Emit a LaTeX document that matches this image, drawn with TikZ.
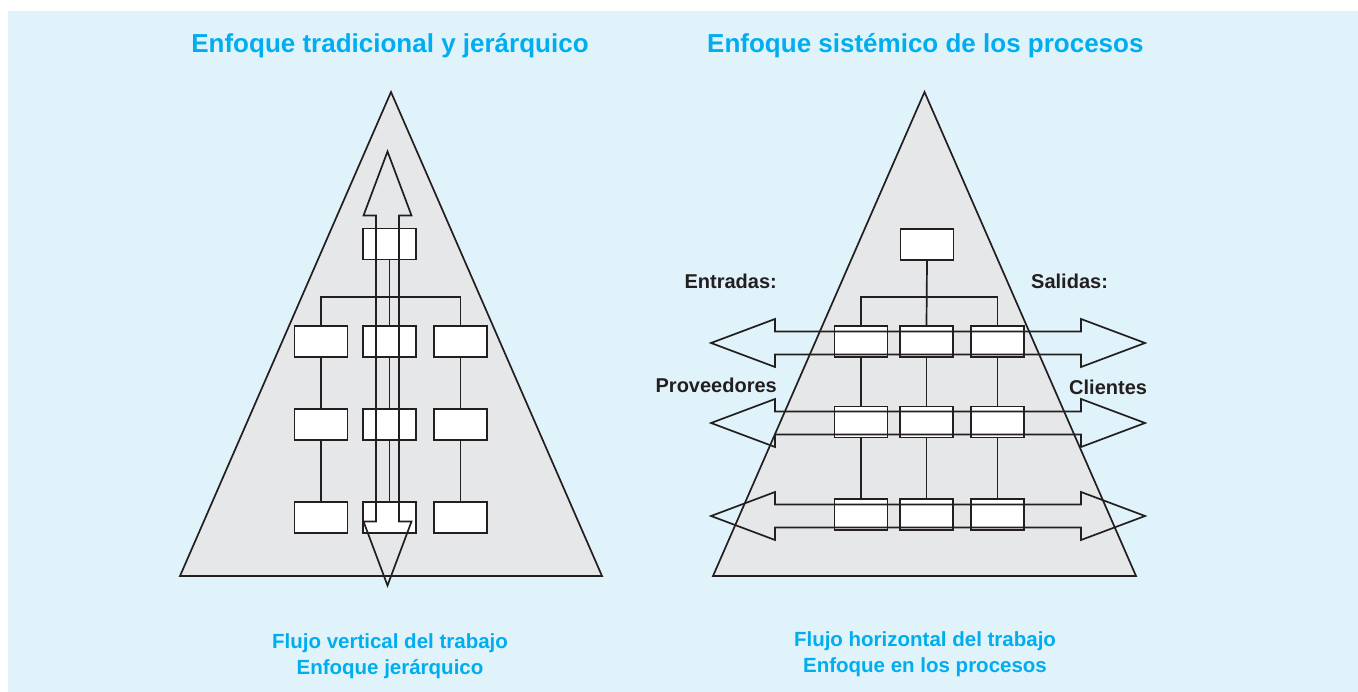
\documentclass[tikz,border=0pt]{standalone}
\usepackage{fontspec}
\setmainfont{Liberation Sans}
\usepackage{xcolor}
\usetikzlibrary{
		calc,
		positioning
	}
\definecolor{fondo}{HTML}{E0F3FB}
\definecolor{gris}{HTML}{E6E7E8}
\definecolor{trazo}{HTML}{231F20}
\definecolor{azul}{HTML}{00AEEF}
\tikzset{
		linea/.style={draw=trazo, line width=1.7pt, line join=miter},
		caja/.style={linea, fill=white, rectangle, minimum width=53pt, minimum height=31pt, inner sep=0pt},
		titulo/.style={text=azul, font=\fontsize{26}{28}\selectfont\bfseries, inner sep=0pt},
		pie/.style={text=azul, font=\fontsize{20.5}{26}\selectfont\bfseries, inner sep=0pt, align=center},
		rotulo/.style={text=trazo, font=\fontsize{20}{22}\selectfont\bfseries, inner sep=0pt}
	}
\tikzset{pics/flujo/.style={code={ \draw[linea] (-217,0) -- (-153,24) -- (-153,11.5) -- (153,11.5) -- (153,24) -- (217,0) -- (153,-24) -- (153,-11.5) -- (-153,-11.5) -- (-153,-24) -- cycle; }}}

\begin{document}
\begin{tikzpicture}[x=1pt, y=-1pt] % 1 unit = 1 pixel of the 1358x692 frame, y downwards
		\useasboundingbox (0,0) rectangle (1358,692);
		\fill[fondo] (8,11) rectangle (1358,692);
		% the two pyramids
		\draw[linea, fill=gris] (391,92) -- (602,576) -- (180,576) -- cycle;
		\draw[linea, fill=gris] (924.5,92) -- (1136,576) -- (713,576) -- cycle;
		% left chart: boxes
		\node[caja] (Ltop) at (389.5,244) {};
		\foreach \c/\x in {a/321,b/389.5,c/460.5}
		  \foreach \r/\y in {1/341.5,2/424.5,3/517.5}
		    \node[caja] (L\c\r) at (\x,\y) {};
		% right chart: boxes
		\node[caja] (Rtop) at (927,244.5) {};
		\foreach \c/\x in {a/861,b/926.5,c/997.5}
		  \foreach \r/\y in {1/341.5,2/422,3/514.5}
		    \node[caja] (R\c\r) at (\x,\y) {};
		% connectors
		\coordinate (Lbus) at (389.5,297);
		\coordinate (Rbus) at (927,297);
		\draw[linea] (Ltop.south) -- (Lb1.north);
		\draw[linea] (La1.north) |- (Lbus) -| (Lc1.north);
		\draw[linea] (Rtop.south) -- (Rb1.north);
		\draw[linea] (Ra1.north) |- (Rbus) -| (Rc1.north);
		\foreach \c in {a,b,c}{
		  \draw[linea] (L\c1.south) -- (L\c2.north) (L\c2.south) -- (L\c3.north);
		  \draw[linea] (R\c1.south) -- (R\c2.north) (R\c2.south) -- (R\c3.north);
		}
		% work flow arrows (outline only, over the boxes)
		\pic[rotate=90] at (387.5,368.5) {flujo};
		\foreach \y in {343,423,516}
		  \pic at (928,\y) {flujo};
		% texts
		\node[titulo, anchor=base] (tituloL) at (390,53) {Enfoque tradicional y jerárquico};
		\node[titulo, anchor=base west] (tituloR) at (707,53) {Enfoque sistémico de los procesos};
		\node[rotulo, anchor=base east] (entradas) at (777,289) {Entradas:};
		\node[rotulo, anchor=base east] (proveedores) at (777,393) {Proveedores};
		\node[rotulo, anchor=base west] (salidas) at (1031,289) {Salidas:};
		\node[rotulo, anchor=base west] (clientes) at (1069,395) {Clientes};
		\node[pie, anchor=base] (pieL) at (390,674) {Flujo vertical del trabajo\\Enfoque jerárquico};
		\node[pie, anchor=base] (pieR) at (925,672) {Flujo horizontal del trabajo\\Enfoque en los procesos};
	\end{tikzpicture}
\end{document}
